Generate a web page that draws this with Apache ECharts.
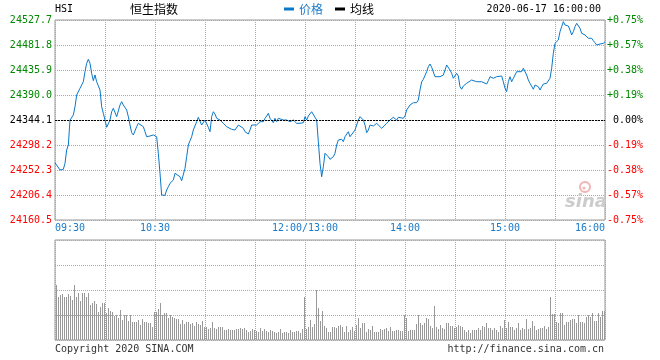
<!DOCTYPE html>
<html><head><meta charset="utf-8">
<script src="https://cdn.jsdelivr.net/npm/echarts@6/dist/echarts.min.js"></script>
<style>html,body{margin:0;padding:0;background:#fff}#c{width:660px;height:360px}</style>
</head><body><div id="c"></div>
<script>
// ---------------- data ----------------
const prevClose = 24344.1;
const yMin = 24160.5;
const yMax = 24527.7;
const leftTickLabels = ['24160.5','24206.4','24252.3','24298.2','24344.1','24390.0','24435.9','24481.8','24527.7'];
const rightTickLabels = ['-0.75%','-0.57%','-0.38%','-0.19%',' 0.00%','+0.19%','+0.38%','+0.57%','+0.75%'];
const xTickTimes = ['09:30','10:30','13:00','14:00','15:00','16:00'];
const xTickLabels = ['09:30','10:30','12:00/13:00','14:00','15:00','16:00'];

const priceTimes = [
'09:30','09:33','09:35','09:36','09:37','09:38','09:39','09:41','09:42','09:43','09:45','09:47','09:48','09:49','09:50','09:51','09:52','09:53','09:54','09:55','09:56','09:57','09:58','09:59',
'10:00','10:01','10:02','10:03','10:04','10:05','10:06','10:07','10:08','10:09','10:10','10:11','10:13','10:14','10:15','10:16','10:17','10:19','10:20','10:21','10:23','10:24','10:25','10:27','10:29',
'10:30','10:31','10:32','10:33','10:34','10:35','10:36','10:37','10:38','10:39','10:41','10:42','10:43','10:45','10:46','10:47','10:48','10:49','10:50','10:51','10:52','10:53','10:55','10:56','10:57','10:58','10:59',
'11:00','11:01','11:02','11:03','11:04','11:05','11:06','11:07','11:08','11:09','11:11','11:12','11:13','11:14','11:16','11:17','11:18','11:19','11:20','11:21','11:23','11:24','11:25','11:26','11:27','11:28','11:29',
'11:31','11:32','11:33','11:34','11:35','11:36','11:37','11:38','11:39','11:40','11:41','11:42','11:43','11:44','11:45','11:47','11:48','11:49','11:51','11:53','11:54','11:55','11:56','11:57','11:58','11:59',
'13:00','13:01','13:02','13:04','13:05','13:07','13:08','13:09','13:10','13:11','13:12','13:13','13:14','13:15','13:16','13:17','13:18','13:19','13:20','13:22','13:23','13:24','13:26','13:27','13:28',
'13:30','13:31','13:32','13:33','13:35','13:36','13:37','13:38','13:39','13:41','13:42','13:43','13:44','13:46','13:47','13:49','13:50','13:51','13:52','13:53','13:55','13:56','13:57','13:59',
'14:00','14:01','14:02','14:03','14:05','14:07','14:08','14:09','14:10','14:11','14:12','14:13','14:14','14:15','14:16','14:17','14:18','14:19','14:21','14:22','14:23','14:24','14:25','14:26','14:27','14:28','14:29',
'14:31','14:32','14:33','14:34','14:35','14:37','14:38','14:40','14:41','14:43','14:44','14:46','14:47','14:49','14:50','14:51','14:52','14:53','14:55','14:56','14:58','14:59',
'15:00','15:01','15:02','15:03','15:04','15:05','15:06','15:07','15:08','15:10','15:11','15:12','15:13','15:14','15:15','15:17','15:18','15:19','15:20','15:21','15:22','15:23','15:25','15:26','15:27','15:28','15:29',
'15:30','15:31','15:32','15:33','15:34','15:35','15:36','15:37','15:38','15:39','15:40','15:41','15:42','15:43','15:44','15:45','15:46','15:48','15:49','15:50','15:51','15:52','15:53','15:54','15:55','15:56','15:57','15:58','15:59','16:00'
];
const priceValues = [
24265.7,24252.3,24253.6,24264.6,24289.0,24298.2,24344.1,24353.3,24368.5,24390.0,24402.3,24414.4,24432.8,24448.2,24455.5,24448.2,24429.8,24416.3,24426.7,24414.4,24414.4,24399.2,24368.5,24356.4,
24344.1,24330.7,24330.7,24344.1,24359.3,24365.6,24366.7,24350.2,24350.2,24371.6,24377.7,24371.6,24362.5,24350.2,24334.9,24320.8,24316.6,24331.8,24338.0,24339.9,24331.8,24322.6,24313.4,24314.7,24316.6,
24319.7,24313.4,24283.0,24246.2,24206.4,24204.6,24205.8,24215.6,24221.6,24227.9,24233.9,24246.2,24243.1,24240.0,24232.7,24232.7,24255.4,24276.7,24298.2,24306.1,24313.4,24325.7,24341.0,24349.1,24347.2,24334.9,24331.8,
24344.1,24344.1,24330.7,24322.6,24350.2,24359.3,24355.1,24347.2,24344.1,24344.1,24338.0,24341.0,24331.8,24328.9,24327.0,24328.9,24325.7,24328.9,24334.9,24333.1,24328.9,24322.6,24319.7,24318.4,24325.7,24334.9,24334.9,
24334.9,24338.0,24341.0,24338.0,24341.0,24347.2,24351.4,24356.4,24347.2,24344.1,24339.1,24347.2,24341.0,24347.2,24344.1,24344.1,24341.0,24344.1,24341.0,24344.1,24341.0,24338.0,24341.0,24338.0,24339.1,24339.1,
24350.2,24344.1,24351.4,24359.3,24356.4,24344.1,24304.3,24264.6,24240.0,24258.4,24283.0,24285.9,24276.7,24271.9,24271.9,24276.7,24283.0,24298.2,24307.4,24308.7,24304.3,24313.4,24322.6,24313.4,24316.6,
24325.7,24334.9,24344.1,24350.2,24344.1,24334.9,24320.8,24325.7,24334.9,24333.1,24334.9,24338.0,24334.9,24328.9,24331.8,24338.0,24339.1,24344.1,24347.2,24349.1,24344.1,24349.1,24350.2,24347.2,
24351.4,24362.5,24365.6,24371.6,24375.9,24375.9,24380.8,24399.2,24414.4,24418.8,24417.5,24432.8,24442.0,24446.9,24440.9,24439.0,24423.6,24420.7,24423.6,24420.7,24426.7,24435.9,24445.1,24443.2,24435.9,24429.8,24420.7,
24429.8,24424.9,24405.2,24400.5,24406.5,24411.5,24414.4,24417.5,24414.4,24414.4,24412.6,24414.4,24411.5,24410.2,24416.3,24423.6,24420.7,24420.7,24423.6,24423.6,24424.9,24414.4,
24402.3,24396.1,24414.4,24423.6,24414.4,24420.7,24426.7,24432.8,24429.8,24432.8,24439.0,24437.2,24426.7,24417.5,24411.5,24400.5,24408.4,24411.5,24405.2,24399.2,24405.2,24410.2,24411.5,24414.4,24420.7,24439.0,24466.6,
24484.9,24484.9,24491.0,24506.2,24515.4,24524.6,24518.5,24515.4,24516.7,24509.3,24500.2,24506.2,24515.4,24521.6,24521.6,24512.5,24503.3,24500.2,24497.0,24494.1,24491.0,24494.1,24489.7,24486.0,24481.8,24484.9,24483.6,24486.0,24484.9,24487.9
];

// volume bars, left to right (arbitrary units, panel top = 100)
const volumes = [
55,43,45,46,43,43,46,44,40,55,43,47,39,47,47,43,47,35,37,39,36,28,33,37,37,27,32,29,28,24,25,22,30,20,25,25,19,25,18,18,18,20,15,21,18,18,17,17,13,28,28,31,37,25,27,27,22,25,23,22,21,21,16,20,16,18,18,16,17,14,18,16,15,19,13,13,11,12,18,12,11,13,13,13,10,10,11,10,10,10,11,
11,12,11,12,10,8,9,11,10,9,8,12,9,11,9,8,10,9,8,7,8,11,7,8,8,7,10,8,8,9,9,7,11,43,11,13,20,13,16,50,32,19,29,14,12,8,8,13,13,12,14,15,13,8,14,8,10,13,9,15,22,12,17,17,8,11,10,14,8,8,8,11,10,11,12,9,13,9,9,10,10,9,9,25,22,9,10,10,10,16,25,17,15,
17,22,21,14,12,34,13,11,15,12,11,17,17,14,14,12,13,15,14,13,10,8,10,7,10,10,10,12,10,14,13,17,12,12,10,12,10,8,14,12,20,12,18,13,13,10,12,17,10,12,11,21,11,12,19,14,10,11,12,12,14,11,13,43,26,26,18,17,27,27,15,18,18,20,21,21,17,25,18,18,17,23,25,23,27,19,19,27,23,29,29
];

// ---------------- helpers ----------------
function toIdx(t){
  const p = t.split(':').map(Number);
  const mins = p[0]*60 + p[1];
  return mins <= 720 ? mins - 570 : mins - 780 + 150;
}
const step = (yMax - yMin) / 8;
function tickIndex(v){ return Math.round((v - yMin) / step); }

const BLUE_TXT = '#1a7bc9';
const LINE = '#0a78c8';
const GREEN = '#008800';
const RED = '#ff0000';
const MONO = 'DejaVu Sans Mono';
const CJK = 'Noto Sans CJK SC';
const DOT = {color:'#aaaaaa', type:[1,1], width:1};

const priceData = priceTimes.map((t,i)=>[toIdx(t), priceValues[i]]);
const xLabelMap = {};
xTickTimes.forEach((t,i)=>{ xLabelMap[toIdx(t)] = xTickLabels[i]; });

function labelColor(v){
  const k = tickIndex(v);
  if (k > 4) return GREEN;
  if (k < 4) return RED;
  return '#000';
}

const chart = echarts.init(document.getElementById('c'), null, {renderer:'canvas'});
chart.setOption({
  animation:false,
  backgroundColor:'#fff',
  legend:{
    left:284, top:3, padding:0, itemWidth:10, itemHeight:3, itemGap:12,
    textStyle:{fontFamily:CJK, fontSize:12},
    data:[
      {name:'价格', icon:'rect', textStyle:{color:BLUE_TXT}},
      {name:'均线', icon:'rect', textStyle:{color:'#000'}}
    ]
  },
  grid:[
    {left:55, top:20, width:550, height:200, show:true, borderColor:'#999', borderWidth:1, backgroundColor:'transparent'},
    {left:55, top:240, width:550, height:100, show:true, borderColor:'#999', borderWidth:1, backgroundColor:'transparent'},
    {left:55.5, top:240, width:550, height:100, show:false}
  ],
  xAxis:[
    {type:'value', gridIndex:0, min:0, max:330, interval:30,
     axisLine:{show:false}, axisTick:{show:false},
     splitLine:{show:true, lineStyle:DOT},
     axisLabel:{show:true, margin:3, color:BLUE_TXT, fontFamily:MONO, fontSize:10,
       alignMinLabel:'left', alignMaxLabel:'right', showMinLabel:true, showMaxLabel:true,
       formatter:(v)=> (xLabelMap[v] !== undefined ? xLabelMap[v] : '')}},
    {type:'value', gridIndex:1, min:0, max:330, interval:30,
     axisLine:{show:false}, axisTick:{show:false}, axisLabel:{show:false},
     splitLine:{show:true, lineStyle:DOT}},
    {type:'category', gridIndex:2, show:false, boundaryGap:true,
     data: volumes.map((_,i)=>i)}
  ],
  yAxis:[
    {type:'value', gridIndex:0, position:'left', min:yMin, max:yMax, interval:step,
     axisLine:{show:false}, axisTick:{show:false},
     splitLine:{show:true, lineStyle:DOT},
     axisLabel:{margin:3, fontFamily:MONO, fontSize:10,
       formatter:(v)=> leftTickLabels[tickIndex(v)],
       color:(v)=> labelColor(v)}},
    {type:'value', gridIndex:0, position:'right', min:yMin, max:yMax, interval:step,
     axisLine:{show:false}, axisTick:{show:false}, splitLine:{show:false},
     axisLabel:{margin:2, fontFamily:MONO, fontSize:10,
       formatter:(v)=> rightTickLabels[tickIndex(v)],
       color:(v)=> labelColor(v)}},
    {type:'value', gridIndex:1, min:0, max:100, interval:25,
     axisLine:{show:false}, axisTick:{show:false}, axisLabel:{show:false},
     splitLine:{show:true, lineStyle:DOT}},
    {type:'value', gridIndex:2, min:0, max:100, show:false, splitLine:{show:false}}
  ],
  series:[
    {name:'价格', type:'line', xAxisIndex:0, yAxisIndex:0, data:priceData,
     showSymbol:false, symbol:'none', color:LINE,
     lineStyle:{color:LINE, width:1},
     markLine:{silent:true, symbol:['none','none'], label:{show:false},
       lineStyle:{color:'#000', type:[2,1], width:1},
       data:[{yAxis:prevClose}]}},
    {name:'均线', type:'line', xAxisIndex:0, yAxisIndex:0, data:[], color:'#000', showSymbol:false},
    {name:'成交量', type:'bar', xAxisIndex:2, yAxisIndex:3, data:volumes,
     barWidth:1, itemStyle:{color:'#999'}}
  ],
  graphic:[
    {type:'text', left:55, top:4, style:{text:'HSI', fontFamily:MONO, fontSize:10, fill:'#000'}},
    {type:'text', left:130, top:3, style:{text:'恒生指数', fontFamily:CJK, fontSize:12, fill:'#000'}},
    {type:'text', right:59, top:4, style:{text:'2020-06-17 16:00:00', fontFamily:MONO, fontSize:10, fill:'#000'}},
    {type:'text', left:55, top:344, style:{text:'Copyright 2020 SINA.COM', fontFamily:MONO, fontSize:10, fill:'#333'}},
    {type:'text', right:56, top:344, style:{text:'http://finance.sina.com.cn', fontFamily:MONO, fontSize:10, fill:'#333'}},
    {type:'circle', shape:{cx:585, cy:187, r:5}, style:{fill:'none', stroke:'#f4b4b4', lineWidth:2}, z:1},
    {type:'circle', shape:{cx:584, cy:188, r:1.5}, style:{fill:'#f4b4b4'}, z:1},
    {type:'text', left:565, top:193, style:{text:'sina', fontFamily:'DejaVu Sans', fontSize:18, fontWeight:'bold', fontStyle:'italic', fill:'#cccccc'}, z:1}
  ]
});
</script>
</body></html>
